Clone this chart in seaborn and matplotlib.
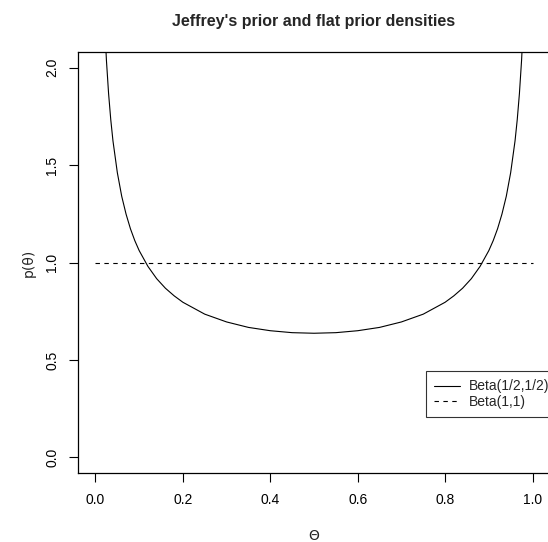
import matplotlib
matplotlib.use("Agg")
import matplotlib.pyplot as plt
import seaborn as sns
import pandas as pd

# Jeffreys prior density Beta(1/2, 1/2) on a grid of theta values
theta_jeffreys = [0.015, 0.02, 0.025, 0.03, 0.035, 0.04, 0.05, 0.06, 0.07, 0.08,
                  0.09, 0.10, 0.12, 0.14, 0.16, 0.18, 0.20, 0.25, 0.30, 0.35,
                  0.40, 0.45, 0.50, 0.55, 0.60, 0.65, 0.70, 0.75, 0.80, 0.82,
                  0.84, 0.86, 0.88, 0.90, 0.91, 0.92, 0.93, 0.94, 0.95, 0.96,
                  0.965, 0.97, 0.975, 0.98, 0.985]
dens_jeffreys = [2.619, 2.274, 2.039, 1.866, 1.732, 1.624, 1.461, 1.340, 1.248, 1.173,
                 1.112, 1.061, 0.980, 0.917, 0.868, 0.829, 0.796, 0.735, 0.695, 0.667,
                 0.650, 0.640, 0.637, 0.640, 0.650, 0.667, 0.695, 0.735, 0.796, 0.829,
                 0.868, 0.917, 0.980, 1.061, 1.112, 1.173, 1.248, 1.340, 1.461, 1.624,
                 1.732, 1.866, 2.039, 2.274, 2.619]

# Flat prior Beta(1, 1)
theta_flat = [0.0, 1.0]
dens_flat = [1.0, 1.0]

x_ticks = [0.0, 0.2, 0.4, 0.6, 0.8, 1.0]
y_ticks = [0.0, 0.5, 1.0, 1.5, 2.0]
legend_labels = ["Beta(1/2,1/2)", "Beta(1,1)"]

sns.set_theme(style="white")
plt.rcParams["font.family"] = ["Liberation Sans", "DejaVu Sans"]

fig = plt.figure(figsize=(5.48, 5.42), dpi=100)
ax = fig.add_axes([78 / 548, 1 - 473 / 542, 472 / 548, 421 / 542])

df_j = pd.DataFrame({"theta": theta_jeffreys, "dens": dens_jeffreys})
df_f = pd.DataFrame({"theta": theta_flat, "dens": dens_flat})

sns.lineplot(data=df_j, x="theta", y="dens", ax=ax, color="black",
             linewidth=0.8, label=legend_labels[0], sort=False)
sns.lineplot(data=df_f, x="theta", y="dens", ax=ax, color="black",
             linewidth=0.8, label=legend_labels[1], sort=False)
ax.lines[1].set_dashes((4, 4))

ax.set_xlim(-0.04, 1.04)
ax.set_ylim(-0.08, 2.08)
ax.set_xticks(x_ticks)
ax.set_yticks(y_ticks)
ax.set_xticklabels([f"{v:.1f}" for v in x_ticks])
ax.set_yticklabels([f"{v:.1f}" for v in y_ticks], rotation=90, va="center")

for s in ax.spines.values():
    s.set_color("black")
    s.set_linewidth(0.9)
ax.spines["right"].set_visible(False)

ax.tick_params(axis="both", which="major", direction="out", length=6.5,
               width=0.8, color="black", labelsize=10, labelcolor="black",
               left=True, bottom=True)
ax.tick_params(axis="x", pad=8)
ax.tick_params(axis="y", pad=7)

ax.set_xlabel("\u0398", fontsize=10, labelpad=16, family=["DejaVu Sans"])
ax.set_ylabel("p(\u03b8)", fontsize=10, labelpad=7, family=["DejaVu Sans"])
ax.set_title("Jeffrey's prior and flat prior densities", fontsize=11.5,
             fontweight="bold", pad=19)

leg = ax.legend(loc="upper left", bbox_to_anchor=(0.7375, 0.242),
                frameon=True, fancybox=False, fontsize=10, handlelength=1.86,
                borderaxespad=0, borderpad=0.6, labelspacing=0.1,
                handletextpad=0.64)
leg.get_frame().set_edgecolor("black")
leg.get_frame().set_linewidth(0.8)

fig.savefig("out.png", dpi=100)
